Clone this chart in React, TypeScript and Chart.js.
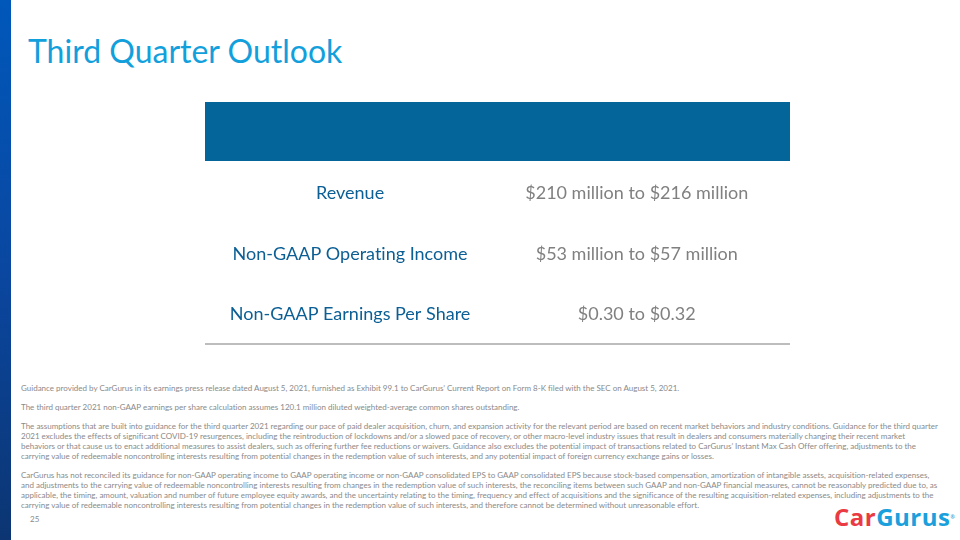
import React, { useEffect, useRef } from "react";
import { Chart, registerables } from "chart.js";

Chart.register(...registerables);

const title = "Third Quarter Outlook";
const metrics = ["Revenue", "Non-GAAP Operating Income", "Non-GAAP Earnings Per Share"];
const guidance = ["$210 million to $216 million", "$53 million to $57 million", "$0.30 to $0.32"];
const footnotes: string[][] = [
  ["Guidance provided by CarGurus in its earnings press release dated August 5, 2021, furnished as Exhibit 99.1 to CarGurus’ Current Report on Form 8-K filed with the SEC on August 5, 2021."],
  ["The third quarter 2021 non-GAAP earnings per share calculation assumes 120.1 million diluted weighted-average common shares outstanding."],
  [
    "The assumptions that are built into guidance for the third quarter 2021 regarding our pace of paid dealer acquisition, churn, and expansion activity for the relevant period are based on recent market behaviors and industry conditions. Guidance for the third quarter",
    "2021 excludes the effects of significant COVID-19 resurgences, including the reintroduction of lockdowns and/or a slowed pace of recovery, or other macro-level industry issues that result in dealers and consumers materially changing their recent market",
    "behaviors or that cause us to enact additional measures to assist dealers, such as offering further fee reductions or waivers. Guidance also excludes the potential impact of transactions related to CarGurus’ Instant Max Cash Offer offering, adjustments to the",
    "carrying value of redeemable noncontrolling interests resulting from potential changes in the redemption value of such interests, and any potential impact of foreign currency exchange gains or losses.",
  ],
  [
    "CarGurus has not reconciled its guidance for non-GAAP operating income to GAAP operating income or non-GAAP consolidated EPS to GAAP consolidated EPS because stock-based compensation, amortization of intangible assets, acquisition-related expenses,",
    "and adjustments to the carrying value of redeemable noncontrolling interests resulting from changes in the redemption value of such interests, the reconciling items between such GAAP and non-GAAP financial measures, cannot be reasonably predicted due to, as",
    "applicable, the timing, amount, valuation and number of future employee equity awards, and the uncertainty relating to the timing, frequency and effect of acquisitions and the significance of the resulting acquisition-related expenses, including adjustments to the",
    "carrying value of redeemable noncontrolling interests resulting from potential changes in the redemption value of such interests, and therefore cannot be determined without unreasonable effort.",
  ],
];
const pageNumber = "25";

const HEADER_COLOR = "#04659b";
const NAME_COLOR = "#0b5f94";
const VALUE_COLOR = "#808080";

const tablePlugin = {
  id: "tablePlugin",
  beforeDraw(chart: any) {
    const { ctx, chartArea, width } = chart;
    ctx.save();
    ctx.fillStyle = HEADER_COLOR;
    ctx.fillRect(0, 0, width, chartArea.top - 2);
    ctx.fillStyle = "#bdbdbd";
    ctx.fillRect(0, chartArea.bottom - 2, width, 2);
    ctx.restore();
  },
  afterDraw(chart: any) {
    const { ctx, width } = chart;
    const y = chart.scales.y;
    const leftCenter = width * 0.248;
    const rightCenter = width * 0.738;
    ctx.save();
    ctx.font = "18px Lato";
    try {
      (ctx as any).textRendering = "optimizeSpeed";
    } catch (e) {}
    ctx.textBaseline = "middle";
    ctx.textAlign = "center";
    metrics.forEach((m, i) => {
      const py = y.getPixelForValue(i);
      ctx.fillStyle = NAME_COLOR;
      ctx.fillText(m, leftCenter, py);
      ctx.fillStyle = VALUE_COLOR;
      ctx.fillText(guidance[i], rightCenter, py);
    });
    ctx.restore();
  },
};

function TableChart() {
  const ref = useRef<HTMLCanvasElement>(null);
  useEffect(() => {
    if (!ref.current) return;
    const chart = new Chart(ref.current, {
      type: "bar",
      data: {
        labels: metrics,
        datasets: [{ label: "Guidance", data: metrics.map(() => null), backgroundColor: "transparent" }],
      },
      options: {
        indexAxis: "y",
        animation: false,
        responsive: false,
        maintainAspectRatio: false,
        layout: { padding: { top: 61, bottom: 0, left: 0, right: 0 } },
        plugins: { legend: { display: false }, tooltip: { enabled: false }, title: { display: false } },
        scales: {
          x: { display: false, min: 0, max: 1 },
          y: { display: false, type: "category" },
        },
      },
      plugins: [tablePlugin],
    } as any);
    return () => chart.destroy();
  }, []);
  return (
    <canvas
      ref={ref}
      width={585}
      height={243}
      style={{ position: "absolute", left: 205, top: 102, width: 585, height: 243 }}
    />
  );
}

export default function App() {
  const lineTops = [
    [383],
    [402],
    [421, 431, 441, 451],
    [470, 480, 490, 500],
  ];
  return (
    <div
      style={{
        position: "fixed",
        left: 0,
        top: 0,
        width: 960,
        height: 540,
        background: "#ffffff",
        overflow: "hidden",
        fontFamily: "Lato, sans-serif",
        fontVariantLigatures: "none",
      }}
    >
      <div
        style={{
          position: "absolute",
          left: 0,
          top: 0,
          width: 11,
          height: 540,
          background: "linear-gradient(180deg, #0058ba 0%, #0a47a0 50%, #0c3572 100%)",
        }}
      />
      <div
        style={{
          position: "absolute",
          left: 28,
          top: 29,
          fontSize: 32,
          color: "#12a0dc",
          whiteSpace: "nowrap",
          lineHeight: "44px",
        }}
      >
        {title}
      </div>
      <TableChart />
      {footnotes.map((para, pi) =>
        para.map((line, li) => (
          <div
            key={pi + "-" + li}
            style={{
              position: "absolute",
              left: 21,
              top: lineTops[pi][li],
              fontSize: 8,
              lineHeight: "10px",
              color: "#8a8a8a",
              whiteSpace: "nowrap",
            }}
          >
            {line}
          </div>
        ))
      )}
      <div
        style={{
          position: "absolute",
          left: 30,
          top: 514,
          fontSize: 8,
          lineHeight: "10px",
          color: "#8a8a8a",
        }}
      >
        {pageNumber}
      </div>
      <div
        style={{
          position: "absolute",
          left: 834,
          top: 502,
          fontSize: 24,
          fontWeight: 700,
          lineHeight: "30px",
          whiteSpace: "nowrap",
          fontFamily: "'Open Sans', sans-serif",
          letterSpacing: 0.5,
        }}
      >
        <span style={{ color: "#ea3a42" }}>Car</span>
        <span style={{ color: "#1aa0dc" }}>Gurus</span>
        <span style={{ color: "#1aa0dc", fontSize: 5, verticalAlign: "top" }}>®</span>
      </div>
    </div>
  );
}
